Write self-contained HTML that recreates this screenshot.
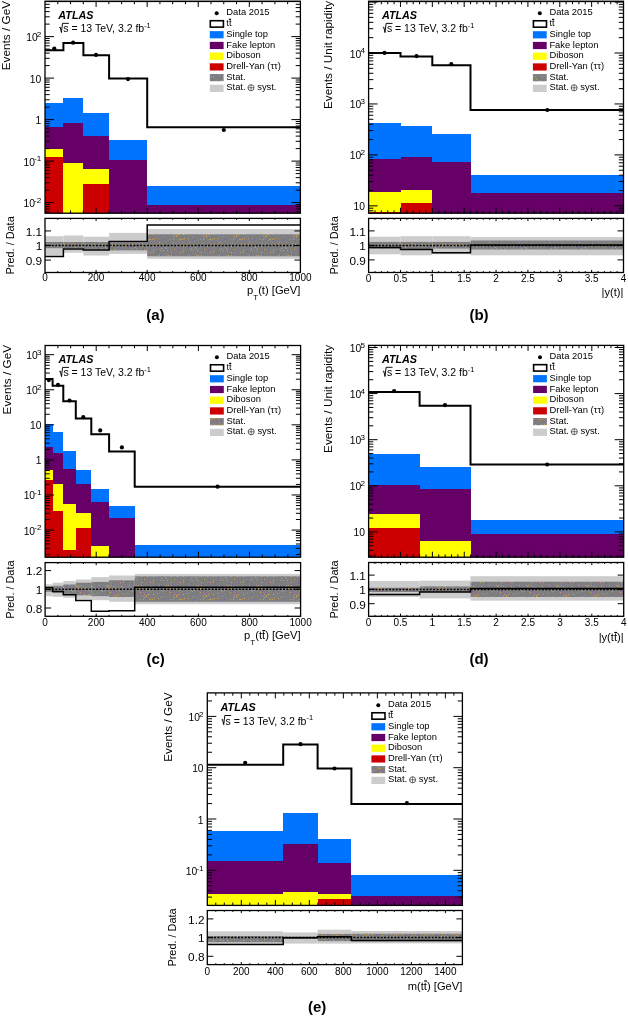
<!DOCTYPE html><html><head><meta charset="utf-8"><style>html,body{margin:0;padding:0;background:#fff;}svg{display:block;will-change:transform;filter:blur(0.35px);}text{font-family:"Liberation Sans",sans-serif;fill:#000;}</style></head><body>
<svg width="628" height="1016" viewBox="0 0 628 1016">
<defs>
<pattern id="statpat" patternUnits="userSpaceOnUse" width="30" height="30"><rect width="30" height="30" fill="#7f7f7f"/><rect x="3" y="0" width="1" height="1" fill="#9a55aa"/><rect x="8" y="7" width="1" height="1" fill="#6a68a8"/><rect x="1" y="25" width="1" height="1" fill="#9a55aa"/><rect x="7" y="11" width="1" height="1" fill="#6a68a8"/><rect x="9" y="2" width="1" height="1" fill="#9c9c9c"/><rect x="14" y="20" width="1" height="1" fill="#9c9c9c"/><rect x="9" y="15" width="1" height="1" fill="#cf9f4a"/><rect x="28" y="13" width="1" height="1" fill="#9a55aa"/><rect x="15" y="10" width="1" height="1" fill="#9a55aa"/><rect x="3" y="6" width="1" height="1" fill="#cf9f4a"/><rect x="14" y="18" width="1" height="1" fill="#9a55aa"/><rect x="15" y="22" width="1" height="1" fill="#9a55aa"/><rect x="3" y="24" width="1" height="1" fill="#cf9f4a"/><rect x="21" y="12" width="1" height="1" fill="#cf9f4a"/><rect x="21" y="6" width="1" height="1" fill="#cf9f4a"/><rect x="27" y="6" width="1" height="1" fill="#cf9f4a"/><rect x="3" y="26" width="1" height="1" fill="#9a55aa"/><rect x="12" y="0" width="1" height="1" fill="#6a68a8"/><rect x="12" y="4" width="1" height="1" fill="#cf9f4a"/><rect x="17" y="24" width="1" height="1" fill="#9a55aa"/><rect x="15" y="7" width="1" height="1" fill="#cf9f4a"/><rect x="11" y="20" width="1" height="1" fill="#cf9f4a"/><rect x="7" y="24" width="1" height="1" fill="#9a55aa"/><rect x="13" y="10" width="1" height="1" fill="#9c9c9c"/><rect x="28" y="24" width="1" height="1" fill="#cf9f4a"/><rect x="4" y="28" width="1" height="1" fill="#cf9f4a"/><rect x="12" y="26" width="1" height="1" fill="#9c9c9c"/><rect x="3" y="12" width="1" height="1" fill="#9c9c9c"/><rect x="12" y="25" width="1" height="1" fill="#6a68a8"/><rect x="25" y="17" width="1" height="1" fill="#9c9c9c"/><rect x="23" y="8" width="1" height="1" fill="#6a68a8"/><rect x="9" y="18" width="1" height="1" fill="#6a68a8"/><rect x="0" y="29" width="1" height="1" fill="#cf9f4a"/><rect x="4" y="4" width="1" height="1" fill="#cf9f4a"/><rect x="9" y="27" width="1" height="1" fill="#6a68a8"/><rect x="1" y="16" width="1" height="1" fill="#cf9f4a"/><rect x="5" y="13" width="1" height="1" fill="#6a68a8"/><rect x="7" y="23" width="1" height="1" fill="#9c9c9c"/><rect x="0" y="12" width="1" height="1" fill="#cf9f4a"/><rect x="22" y="21" width="1" height="1" fill="#9a55aa"/><rect x="7" y="12" width="1" height="1" fill="#9a55aa"/><rect x="23" y="29" width="1" height="1" fill="#cf9f4a"/><rect x="22" y="23" width="1" height="1" fill="#9a55aa"/><rect x="25" y="4" width="1" height="1" fill="#cf9f4a"/><rect x="22" y="14" width="1" height="1" fill="#6a68a8"/><rect x="8" y="4" width="1" height="1" fill="#9c9c9c"/><rect x="10" y="10" width="1" height="1" fill="#9c9c9c"/><rect x="17" y="16" width="1" height="1" fill="#cf9f4a"/><rect x="3" y="10" width="1" height="1" fill="#cf9f4a"/><rect x="22" y="5" width="1" height="1" fill="#cf9f4a"/><rect x="17" y="22" width="1" height="1" fill="#9a55aa"/><rect x="20" y="18" width="1" height="1" fill="#cf9f4a"/><rect x="2" y="29" width="1" height="1" fill="#cf9f4a"/><rect x="18" y="18" width="1" height="1" fill="#cf9f4a"/><rect x="18" y="15" width="1" height="1" fill="#cf9f4a"/><rect x="3" y="17" width="1" height="1" fill="#9c9c9c"/><rect x="29" y="29" width="1" height="1" fill="#9c9c9c"/><rect x="17" y="10" width="1" height="1" fill="#cf9f4a"/><rect x="24" y="27" width="1" height="1" fill="#9c9c9c"/><rect x="22" y="3" width="1" height="1" fill="#9c9c9c"/><rect x="8" y="28" width="1" height="1" fill="#cf9f4a"/><rect x="19" y="17" width="1" height="1" fill="#9c9c9c"/><rect x="6" y="5" width="1" height="1" fill="#cf9f4a"/><rect x="26" y="23" width="1" height="1" fill="#9a55aa"/><rect x="9" y="11" width="1" height="1" fill="#9a55aa"/><rect x="6" y="1" width="1" height="1" fill="#9a55aa"/><rect x="21" y="15" width="1" height="1" fill="#cf9f4a"/><rect x="16" y="8" width="1" height="1" fill="#9c9c9c"/><rect x="28" y="9" width="1" height="1" fill="#6a68a8"/><rect x="20" y="29" width="1" height="1" fill="#9c9c9c"/><rect x="16" y="15" width="1" height="1" fill="#9c9c9c"/><rect x="1" y="4" width="1" height="1" fill="#cf9f4a"/><rect x="12" y="21" width="1" height="1" fill="#9c9c9c"/><rect x="6" y="16" width="1" height="1" fill="#9a55aa"/><rect x="1" y="2" width="1" height="1" fill="#9a55aa"/><rect x="25" y="0" width="1" height="1" fill="#9a55aa"/><rect x="26" y="19" width="1" height="1" fill="#cf9f4a"/><rect x="26" y="25" width="1" height="1" fill="#cf9f4a"/><rect x="29" y="20" width="1" height="1" fill="#cf9f4a"/><rect x="20" y="22" width="1" height="1" fill="#cf9f4a"/><rect x="11" y="18" width="1" height="1" fill="#9a55aa"/><rect x="19" y="1" width="1" height="1" fill="#6a68a8"/><rect x="24" y="9" width="1" height="1" fill="#cf9f4a"/><rect x="11" y="13" width="1" height="1" fill="#6a68a8"/><rect x="24" y="24" width="1" height="1" fill="#9c9c9c"/><rect x="23" y="16" width="1" height="1" fill="#9c9c9c"/><rect x="14" y="29" width="1" height="1" fill="#6a68a8"/><rect x="11" y="8" width="1" height="1" fill="#cf9f4a"/><rect x="23" y="26" width="1" height="1" fill="#9c9c9c"/><rect x="29" y="19" width="1" height="1" fill="#6a68a8"/><rect x="11" y="24" width="1" height="1" fill="#9a55aa"/><rect x="16" y="5" width="1" height="1" fill="#6a68a8"/><rect x="10" y="15" width="1" height="1" fill="#6a68a8"/><rect x="26" y="26" width="1" height="1" fill="#cf9f4a"/><rect x="23" y="10" width="1" height="1" fill="#6a68a8"/></pattern>
</defs>
<rect width="628" height="1016" fill="#fff"/>
<rect x="44.5" y="0" width="256.5" height="0.9" fill="#a8a8a8"/><rect x="368" y="0" width="256" height="0.9" fill="#a8a8a8"/>
<clipPath id="cma"><rect x="45" y="1.45" width="255.4" height="211.75"/></clipPath>
<clipPath id="cra"><rect x="45" y="218.4" width="255.4" height="54.1"/></clipPath>
<g clip-path="url(#cma)" shape-rendering="crispEdges">
<rect x="45" y="102.7" width="18.4" height="112.5" fill="#0073ff"/>
<rect x="45" y="126.9" width="18.4" height="88.3" fill="#660066"/>
<rect x="45" y="148.9" width="18.4" height="66.3" fill="#ffff00"/>
<rect x="45" y="156.6" width="18.4" height="58.6" fill="#cc0000"/>
<rect x="63.4" y="97.5" width="20" height="117.7" fill="#0073ff"/>
<rect x="63.4" y="122.6" width="20" height="92.6" fill="#660066"/>
<rect x="63.4" y="162.5" width="20" height="52.7" fill="#ffff00"/>
<rect x="83.4" y="113.1" width="25.7" height="102.1" fill="#0073ff"/>
<rect x="83.4" y="135.7" width="25.7" height="79.5" fill="#660066"/>
<rect x="83.4" y="168.8" width="25.7" height="46.4" fill="#ffff00"/>
<rect x="83.4" y="184" width="25.7" height="31.2" fill="#cc0000"/>
<rect x="109.1" y="139.5" width="38.1" height="75.7" fill="#0073ff"/>
<rect x="109.1" y="159.7" width="38.1" height="55.5" fill="#660066"/>
<rect x="147.2" y="186" width="153.2" height="29.2" fill="#0073ff"/>
<rect x="147.2" y="205.4" width="153.2" height="9.8" fill="#660066"/>
</g>
<path d="M45,50.2 L63.4,50.2 L63.4,43 L83.4,43 L83.4,55.3 L109.1,55.3 L109.1,78.5 L147.2,78.5 L147.2,127.2 L300.4,127.2" fill="none" stroke="#000" stroke-width="2" clip-path="url(#cma)"/>
<circle cx="54.3" cy="48.6" r="2.1" fill="#000"/>
<circle cx="73.1" cy="42.7" r="2.1" fill="#000"/>
<circle cx="96" cy="54.9" r="2.1" fill="#000"/>
<circle cx="128" cy="79.1" r="2.1" fill="#000"/>
<circle cx="223.8" cy="130" r="2.1" fill="#000"/>
<path d="M45,211.81h4.7M300.4,211.81h-4.7M45,209.03h4.7M300.4,209.03h-4.7M45,206.62h4.7M300.4,206.62h-4.7M45,204.5h4.7M300.4,204.5h-4.7M45,202.6h9M300.4,202.6h-9M45,190.11h4.7M300.4,190.11h-4.7M45,182.8h4.7M300.4,182.8h-4.7M45,177.61h4.7M300.4,177.61h-4.7M45,173.59h4.7M300.4,173.59h-4.7M45,170.31h4.7M300.4,170.31h-4.7M45,167.53h4.7M300.4,167.53h-4.7M45,165.12h4.7M300.4,165.12h-4.7M45,163h4.7M300.4,163h-4.7M45,161.1h9M300.4,161.1h-9M45,148.61h4.7M300.4,148.61h-4.7M45,141.3h4.7M300.4,141.3h-4.7M45,136.11h4.7M300.4,136.11h-4.7M45,132.09h4.7M300.4,132.09h-4.7M45,128.81h4.7M300.4,128.81h-4.7M45,126.03h4.7M300.4,126.03h-4.7M45,123.62h4.7M300.4,123.62h-4.7M45,121.5h4.7M300.4,121.5h-4.7M45,119.6h9M300.4,119.6h-9M45,107.11h4.7M300.4,107.11h-4.7M45,99.8h4.7M300.4,99.8h-4.7M45,94.61h4.7M300.4,94.61h-4.7M45,90.59h4.7M300.4,90.59h-4.7M45,87.31h4.7M300.4,87.31h-4.7M45,84.53h4.7M300.4,84.53h-4.7M45,82.12h4.7M300.4,82.12h-4.7M45,80h4.7M300.4,80h-4.7M45,78.1h9M300.4,78.1h-9M45,65.61h4.7M300.4,65.61h-4.7M45,58.3h4.7M300.4,58.3h-4.7M45,53.11h4.7M300.4,53.11h-4.7M45,49.09h4.7M300.4,49.09h-4.7M45,45.81h4.7M300.4,45.81h-4.7M45,43.03h4.7M300.4,43.03h-4.7M45,40.62h4.7M300.4,40.62h-4.7M45,38.5h4.7M300.4,38.5h-4.7M45,36.6h9M300.4,36.6h-9M45,24.11h4.7M300.4,24.11h-4.7M45,16.8h4.7M300.4,16.8h-4.7M45,11.61h4.7M300.4,11.61h-4.7M45,7.59h4.7M300.4,7.59h-4.7M45,4.31h4.7M300.4,4.31h-4.7M57.77,213.2v-2.8M57.77,1.45v2.8M70.54,213.2v-2.8M70.54,1.45v2.8M83.31,213.2v-2.8M83.31,1.45v2.8M96.08,213.2v-5.5M96.08,1.45v5.5M108.85,213.2v-2.8M108.85,1.45v2.8M121.62,213.2v-2.8M121.62,1.45v2.8M134.39,213.2v-2.8M134.39,1.45v2.8M147.16,213.2v-5.5M147.16,1.45v5.5M159.93,213.2v-2.8M159.93,1.45v2.8M172.7,213.2v-2.8M172.7,1.45v2.8M185.47,213.2v-2.8M185.47,1.45v2.8M198.24,213.2v-5.5M198.24,1.45v5.5M211.01,213.2v-2.8M211.01,1.45v2.8M223.78,213.2v-2.8M223.78,1.45v2.8M236.55,213.2v-2.8M236.55,1.45v2.8M249.32,213.2v-5.5M249.32,1.45v5.5M262.09,213.2v-2.8M262.09,1.45v2.8M274.86,213.2v-2.8M274.86,1.45v2.8M287.63,213.2v-2.8M287.63,1.45v2.8" stroke="#000" stroke-width="1" fill="none"/>
<rect x="45" y="1.45" width="255.4" height="211.75" fill="none" stroke="#000" stroke-width="1.3"/>
<g clip-path="url(#cra)">
<rect x="45" y="236.2" width="18.4" height="19.3" fill="#cccccc"/>
<rect x="63.4" y="235.5" width="20" height="17.2" fill="#cccccc"/>
<rect x="83.4" y="236.7" width="25.7" height="18.8" fill="#cccccc"/>
<rect x="109.1" y="232.9" width="38.1" height="21" fill="#cccccc"/>
<rect x="147.2" y="229" width="153.2" height="29.8" fill="#cccccc"/>
<rect x="45" y="242" width="18.4" height="6.2" fill="url(#statpat)"/>
<rect x="63.4" y="242" width="20" height="6.1" fill="url(#statpat)"/>
<rect x="83.4" y="242" width="25.7" height="7.5" fill="url(#statpat)"/>
<rect x="109.1" y="242.5" width="38.1" height="7.9" fill="url(#statpat)"/>
<rect x="147.2" y="234.3" width="153.2" height="22" fill="url(#statpat)"/>
<line x1="45" y1="245.5" x2="300.4" y2="245.5" stroke="#000" stroke-width="1.5" stroke-dasharray="1.9,1.5"/>
<path d="M45,256.4 L63.4,256.4 L63.4,249 L83.4,249 L83.4,250 L109.1,250 L109.1,241.5 L147.2,241.5 L147.2,225 L300.4,225" fill="none" stroke="#000" stroke-width="1.5"/>
</g>
<path d="M45,230.95h6M300.4,230.95h-6M45,245.5h6M300.4,245.5h-6M45,260.05h6M300.4,260.05h-6M57.77,272.5v-1.4M57.77,218.4v1.4M70.54,272.5v-1.4M70.54,218.4v1.4M83.31,272.5v-1.4M83.31,218.4v1.4M96.08,272.5v-2.6M96.08,218.4v2.6M108.85,272.5v-1.4M108.85,218.4v1.4M121.62,272.5v-1.4M121.62,218.4v1.4M134.39,272.5v-1.4M134.39,218.4v1.4M147.16,272.5v-2.6M147.16,218.4v2.6M159.93,272.5v-1.4M159.93,218.4v1.4M172.7,272.5v-1.4M172.7,218.4v1.4M185.47,272.5v-1.4M185.47,218.4v1.4M198.24,272.5v-2.6M198.24,218.4v2.6M211.01,272.5v-1.4M211.01,218.4v1.4M223.78,272.5v-1.4M223.78,218.4v1.4M236.55,272.5v-1.4M236.55,218.4v1.4M249.32,272.5v-2.6M249.32,218.4v2.6M262.09,272.5v-1.4M262.09,218.4v1.4M274.86,272.5v-1.4M274.86,218.4v1.4M287.63,272.5v-1.4M287.63,218.4v1.4" stroke="#000" stroke-width="1" fill="none"/>
<rect x="45" y="218.4" width="255.4" height="54.1" fill="none" stroke="#000" stroke-width="1.3"/>
<text x="41.3" y="41.1" text-anchor="end" font-size="10.3">10<tspan font-size="8.1" dx="-0.9" dy="-4.3">2</tspan></text>
<text x="41.3" y="82.6" text-anchor="end" font-size="10.3">10</text>
<text x="41.3" y="124.1" text-anchor="end" font-size="10.3">1</text>
<text x="41.3" y="165.6" text-anchor="end" font-size="10.3">10<tspan font-size="8.1" dx="-0.9" dy="-4.3">-1</tspan></text>
<text x="41.3" y="207.1" text-anchor="end" font-size="10.3">10<tspan font-size="8.1" dx="-0.9" dy="-4.3">-2</tspan></text>
<text x="42.2" y="235.75" text-anchor="end" font-size="11.8">1.1</text>
<text x="42.2" y="250.3" text-anchor="end" font-size="11.8">1</text>
<text x="42.2" y="264.85" text-anchor="end" font-size="11.8">0.9</text>
<text x="45" y="281.4" text-anchor="middle" font-size="10">0</text>
<text x="96.08" y="281.4" text-anchor="middle" font-size="10">200</text>
<text x="147.16" y="281.4" text-anchor="middle" font-size="10">400</text>
<text x="198.24" y="281.4" text-anchor="middle" font-size="10">600</text>
<text x="249.32" y="281.4" text-anchor="middle" font-size="10">800</text>
<text x="300.4" y="281.4" text-anchor="middle" font-size="10">1000</text>
<text transform="translate(10.1,0.85) rotate(-90)" text-anchor="end" font-size="11.8">Events / GeV</text>
<text transform="translate(14,216.3) rotate(-90)" text-anchor="end" font-size="10.9">Pred. / Data</text>
<text x="247.02" y="293.8" font-size="11.2">p</text>
<text x="253.24" y="299.8" font-size="8">T</text>
<text x="258.13" y="293.8" font-size="11.2">(t) [GeV]</text>
<text x="146.2" y="319.8" font-size="15" font-weight="bold">(a)</text>
<text x="58.3" y="18.55" font-size="10.8" font-weight="bold" font-style="italic">ATLAS</text>
<path d="M59.2,27.75l1,-0.6l1.2,5.4l1.1,-9.2h6.4" fill="none" stroke="#000" stroke-width="0.95"/>
<text x="63.3" y="32.35" font-size="10.5">s = 13 TeV, 3.2 fb<tspan font-size="7.4" dy="-4.3">-1</tspan></text>
<circle cx="216.7" cy="13.3" r="2.0" fill="#000"/>
<text x="226.3" y="15.4" font-size="9.4">Data 2015</text>
<rect x="210.3" y="20.72" width="13.1" height="6.4" fill="#fff" stroke="#000" stroke-width="1.6"/>
<text x="226.3" y="26.12" font-size="9.4">tt</text>
<path d="M228.8,19.32h2.3" stroke="#000" stroke-width="1.2"/>
<rect x="209.8" y="31.14" width="13.8" height="7.2" fill="#0073ff"/>
<text x="226.3" y="36.84" font-size="9.4">Single top</text>
<rect x="209.8" y="41.86" width="13.8" height="7.2" fill="#660066"/>
<text x="226.3" y="47.56" font-size="9.4">Fake lepton</text>
<rect x="209.8" y="52.58" width="13.8" height="7.2" fill="#ffff00"/>
<text x="226.3" y="58.28" font-size="9.4">Diboson</text>
<rect x="209.8" y="63.3" width="13.8" height="7.2" fill="#cc0000"/>
<text x="226.3" y="69" font-size="9.4">Drell-Yan (ττ)</text>
<rect x="209.8" y="74.02" width="13.8" height="7.2" fill="url(#statpat)"/>
<text x="226.3" y="79.72" font-size="9.4">Stat.</text>
<rect x="209.8" y="84.74" width="13.8" height="7.2" fill="#cccccc"/>
<text x="226.3" y="90.44" font-size="9.4">Stat.</text>
<circle cx="251" cy="87.74" r="3.05" fill="none" stroke="#000" stroke-width="0.6"/><path d="M247.95,87.74h6.1M251,84.69v6.1" stroke="#000" stroke-width="0.5"/>
<text x="257.2" y="90.44" font-size="9.4">syst.</text>
<clipPath id="cmb"><rect x="368.6" y="1.5" width="254.9" height="211.7"/></clipPath>
<clipPath id="crb"><rect x="368.6" y="218.4" width="254.9" height="54.1"/></clipPath>
<g clip-path="url(#cmb)" shape-rendering="crispEdges">
<rect x="368.6" y="123.4" width="31.9" height="91.8" fill="#0073ff"/>
<rect x="368.6" y="159.1" width="31.9" height="56.1" fill="#660066"/>
<rect x="368.6" y="192" width="31.9" height="23.2" fill="#ffff00"/>
<rect x="368.6" y="211.5" width="31.9" height="3.7" fill="#cc0000"/>
<rect x="400.5" y="125.6" width="31.8" height="89.6" fill="#0073ff"/>
<rect x="400.5" y="156.8" width="31.8" height="58.4" fill="#660066"/>
<rect x="400.5" y="189.8" width="31.8" height="25.4" fill="#ffff00"/>
<rect x="400.5" y="203.2" width="31.8" height="12" fill="#cc0000"/>
<rect x="432.3" y="133.9" width="38.2" height="81.3" fill="#0073ff"/>
<rect x="432.3" y="161.7" width="38.2" height="53.5" fill="#660066"/>
<rect x="470.5" y="175.2" width="153" height="40" fill="#0073ff"/>
<rect x="470.5" y="192.8" width="153" height="22.4" fill="#660066"/>
</g>
<path d="M368.6,53 L400.5,53 L400.5,56.5 L432.3,56.5 L432.3,65.3 L470.5,65.3 L470.5,110 L623.5,110" fill="none" stroke="#000" stroke-width="2" clip-path="url(#cmb)"/>
<circle cx="384.5" cy="52.9" r="2.1" fill="#000"/>
<circle cx="416.5" cy="56.1" r="2.1" fill="#000"/>
<circle cx="451.3" cy="64.2" r="2.1" fill="#000"/>
<circle cx="547.3" cy="110" r="2.1" fill="#000"/>
<path d="M368.6,210.79h4.7M623.5,210.79h-4.7M368.6,208.18h4.7M623.5,208.18h-4.7M368.6,205.85h9M623.5,205.85h-9M368.6,190.51h4.7M623.5,190.51h-4.7M368.6,181.54h4.7M623.5,181.54h-4.7M368.6,175.18h4.7M623.5,175.18h-4.7M368.6,170.24h4.7M623.5,170.24h-4.7M368.6,166.2h4.7M623.5,166.2h-4.7M368.6,162.79h4.7M623.5,162.79h-4.7M368.6,159.84h4.7M623.5,159.84h-4.7M368.6,157.23h4.7M623.5,157.23h-4.7M368.6,154.9h9M623.5,154.9h-9M368.6,139.56h4.7M623.5,139.56h-4.7M368.6,130.59h4.7M623.5,130.59h-4.7M368.6,124.23h4.7M623.5,124.23h-4.7M368.6,119.29h4.7M623.5,119.29h-4.7M368.6,115.25h4.7M623.5,115.25h-4.7M368.6,111.84h4.7M623.5,111.84h-4.7M368.6,108.89h4.7M623.5,108.89h-4.7M368.6,106.28h4.7M623.5,106.28h-4.7M368.6,103.95h9M623.5,103.95h-9M368.6,88.61h4.7M623.5,88.61h-4.7M368.6,79.64h4.7M623.5,79.64h-4.7M368.6,73.28h4.7M623.5,73.28h-4.7M368.6,68.34h4.7M623.5,68.34h-4.7M368.6,64.3h4.7M623.5,64.3h-4.7M368.6,60.89h4.7M623.5,60.89h-4.7M368.6,57.94h4.7M623.5,57.94h-4.7M368.6,55.33h4.7M623.5,55.33h-4.7M368.6,53h9M623.5,53h-9M368.6,37.66h4.7M623.5,37.66h-4.7M368.6,28.69h4.7M623.5,28.69h-4.7M368.6,22.33h4.7M623.5,22.33h-4.7M368.6,17.39h4.7M623.5,17.39h-4.7M368.6,13.35h4.7M623.5,13.35h-4.7M368.6,9.94h4.7M623.5,9.94h-4.7M368.6,6.99h4.7M623.5,6.99h-4.7M368.6,4.38h4.7M623.5,4.38h-4.7M368.6,2.05h9M623.5,2.05h-9M374.97,213.2v-2.8M374.97,1.5v2.8M381.35,213.2v-2.8M381.35,1.5v2.8M387.72,213.2v-2.8M387.72,1.5v2.8M394.09,213.2v-2.8M394.09,1.5v2.8M400.46,213.2v-5.5M400.46,1.5v5.5M406.84,213.2v-2.8M406.84,1.5v2.8M413.21,213.2v-2.8M413.21,1.5v2.8M419.58,213.2v-2.8M419.58,1.5v2.8M425.95,213.2v-2.8M425.95,1.5v2.8M432.33,213.2v-5.5M432.33,1.5v5.5M438.7,213.2v-2.8M438.7,1.5v2.8M445.07,213.2v-2.8M445.07,1.5v2.8M451.44,213.2v-2.8M451.44,1.5v2.8M457.81,213.2v-2.8M457.81,1.5v2.8M464.19,213.2v-5.5M464.19,1.5v5.5M470.56,213.2v-2.8M470.56,1.5v2.8M476.93,213.2v-2.8M476.93,1.5v2.8M483.31,213.2v-2.8M483.31,1.5v2.8M489.68,213.2v-2.8M489.68,1.5v2.8M496.05,213.2v-5.5M496.05,1.5v5.5M502.42,213.2v-2.8M502.42,1.5v2.8M508.8,213.2v-2.8M508.8,1.5v2.8M515.17,213.2v-2.8M515.17,1.5v2.8M521.54,213.2v-2.8M521.54,1.5v2.8M527.91,213.2v-5.5M527.91,1.5v5.5M534.29,213.2v-2.8M534.29,1.5v2.8M540.66,213.2v-2.8M540.66,1.5v2.8M547.03,213.2v-2.8M547.03,1.5v2.8M553.4,213.2v-2.8M553.4,1.5v2.8M559.77,213.2v-5.5M559.77,1.5v5.5M566.15,213.2v-2.8M566.15,1.5v2.8M572.52,213.2v-2.8M572.52,1.5v2.8M578.89,213.2v-2.8M578.89,1.5v2.8M585.26,213.2v-2.8M585.26,1.5v2.8M591.64,213.2v-5.5M591.64,1.5v5.5M598.01,213.2v-2.8M598.01,1.5v2.8M604.38,213.2v-2.8M604.38,1.5v2.8M610.75,213.2v-2.8M610.75,1.5v2.8M617.13,213.2v-2.8M617.13,1.5v2.8" stroke="#000" stroke-width="1" fill="none"/>
<rect x="368.6" y="1.5" width="254.9" height="211.7" fill="none" stroke="#000" stroke-width="1.3"/>
<g clip-path="url(#crb)">
<rect x="368.6" y="236.7" width="31.9" height="17.6" fill="#cccccc"/>
<rect x="400.5" y="236.2" width="31.8" height="19.1" fill="#cccccc"/>
<rect x="432.3" y="236.2" width="38.2" height="18.1" fill="#cccccc"/>
<rect x="470.5" y="237.1" width="153" height="18.2" fill="#cccccc"/>
<rect x="368.6" y="241.9" width="31.9" height="6.7" fill="url(#statpat)"/>
<rect x="400.5" y="241.9" width="31.8" height="7.6" fill="url(#statpat)"/>
<rect x="432.3" y="241.9" width="38.2" height="6.7" fill="url(#statpat)"/>
<rect x="470.5" y="240.5" width="153" height="9" fill="url(#statpat)"/>
<line x1="368.6" y1="245.4" x2="623.5" y2="245.4" stroke="#000" stroke-width="1.5" stroke-dasharray="1.9,1.5"/>
<path d="M368.6,247.4 L400.5,247.4 L400.5,249.4 L432.3,249.4 L432.3,252.8 L470.5,252.8 L470.5,245 L623.5,245" fill="none" stroke="#000" stroke-width="1.5"/>
</g>
<path d="M368.6,230.9h6M623.5,230.9h-6M368.6,245.4h6M623.5,245.4h-6M368.6,259.9h6M623.5,259.9h-6M374.97,272.5v-1.4M374.97,218.4v1.4M381.35,272.5v-1.4M381.35,218.4v1.4M387.72,272.5v-1.4M387.72,218.4v1.4M394.09,272.5v-1.4M394.09,218.4v1.4M400.46,272.5v-2.6M400.46,218.4v2.6M406.84,272.5v-1.4M406.84,218.4v1.4M413.21,272.5v-1.4M413.21,218.4v1.4M419.58,272.5v-1.4M419.58,218.4v1.4M425.95,272.5v-1.4M425.95,218.4v1.4M432.33,272.5v-2.6M432.33,218.4v2.6M438.7,272.5v-1.4M438.7,218.4v1.4M445.07,272.5v-1.4M445.07,218.4v1.4M451.44,272.5v-1.4M451.44,218.4v1.4M457.81,272.5v-1.4M457.81,218.4v1.4M464.19,272.5v-2.6M464.19,218.4v2.6M470.56,272.5v-1.4M470.56,218.4v1.4M476.93,272.5v-1.4M476.93,218.4v1.4M483.31,272.5v-1.4M483.31,218.4v1.4M489.68,272.5v-1.4M489.68,218.4v1.4M496.05,272.5v-2.6M496.05,218.4v2.6M502.42,272.5v-1.4M502.42,218.4v1.4M508.8,272.5v-1.4M508.8,218.4v1.4M515.17,272.5v-1.4M515.17,218.4v1.4M521.54,272.5v-1.4M521.54,218.4v1.4M527.91,272.5v-2.6M527.91,218.4v2.6M534.29,272.5v-1.4M534.29,218.4v1.4M540.66,272.5v-1.4M540.66,218.4v1.4M547.03,272.5v-1.4M547.03,218.4v1.4M553.4,272.5v-1.4M553.4,218.4v1.4M559.77,272.5v-2.6M559.77,218.4v2.6M566.15,272.5v-1.4M566.15,218.4v1.4M572.52,272.5v-1.4M572.52,218.4v1.4M578.89,272.5v-1.4M578.89,218.4v1.4M585.26,272.5v-1.4M585.26,218.4v1.4M591.64,272.5v-2.6M591.64,218.4v2.6M598.01,272.5v-1.4M598.01,218.4v1.4M604.38,272.5v-1.4M604.38,218.4v1.4M610.75,272.5v-1.4M610.75,218.4v1.4M617.13,272.5v-1.4M617.13,218.4v1.4" stroke="#000" stroke-width="1" fill="none"/>
<rect x="368.6" y="218.4" width="254.9" height="54.1" fill="none" stroke="#000" stroke-width="1.3"/>
<text x="364.9" y="57.5" text-anchor="end" font-size="10.3">10<tspan font-size="8.1" dx="-0.9" dy="-4.3">4</tspan></text>
<text x="364.9" y="108.45" text-anchor="end" font-size="10.3">10<tspan font-size="8.1" dx="-0.9" dy="-4.3">3</tspan></text>
<text x="364.9" y="159.4" text-anchor="end" font-size="10.3">10<tspan font-size="8.1" dx="-0.9" dy="-4.3">2</tspan></text>
<text x="364.9" y="210.35" text-anchor="end" font-size="10.3">10</text>
<text x="365.8" y="235.7" text-anchor="end" font-size="11.8">1.1</text>
<text x="365.8" y="250.2" text-anchor="end" font-size="11.8">1</text>
<text x="365.8" y="264.7" text-anchor="end" font-size="11.8">0.9</text>
<text x="368.6" y="281.6" text-anchor="middle" font-size="10">0</text>
<text x="400.46" y="281.6" text-anchor="middle" font-size="10">0.5</text>
<text x="432.33" y="281.6" text-anchor="middle" font-size="10">1</text>
<text x="464.19" y="281.6" text-anchor="middle" font-size="10">1.5</text>
<text x="496.05" y="281.6" text-anchor="middle" font-size="10">2</text>
<text x="527.91" y="281.6" text-anchor="middle" font-size="10">2.5</text>
<text x="559.77" y="281.6" text-anchor="middle" font-size="10">3</text>
<text x="591.64" y="281.6" text-anchor="middle" font-size="10">3.5</text>
<text x="623.5" y="281.6" text-anchor="middle" font-size="10">4</text>
<text transform="translate(332.3,0.9) rotate(-90)" text-anchor="end" font-size="11.8">Events / Unit rapidity</text>
<text transform="translate(337.6,216.3) rotate(-90)" text-anchor="end" font-size="10.9">Pred. / Data</text>
<text x="601.53" y="295.7" font-size="11.2">|y(t)|</text>
<text x="469.4" y="320" font-size="15" font-weight="bold">(b)</text>
<text x="381.9" y="18.6" font-size="10.8" font-weight="bold" font-style="italic">ATLAS</text>
<path d="M382.8,27.8l1,-0.6l1.2,5.4l1.1,-9.2h6.4" fill="none" stroke="#000" stroke-width="0.95"/>
<text x="386.9" y="32.4" font-size="10.5">s = 13 TeV, 3.2 fb<tspan font-size="7.4" dy="-4.3">-1</tspan></text>
<circle cx="539.8" cy="13.35" r="2.0" fill="#000"/>
<text x="549.4" y="15.45" font-size="9.4">Data 2015</text>
<rect x="533.4" y="20.77" width="13.1" height="6.4" fill="#fff" stroke="#000" stroke-width="1.6"/>
<text x="549.4" y="26.17" font-size="9.4">tt</text>
<path d="M551.9,19.37h2.3" stroke="#000" stroke-width="1.2"/>
<rect x="532.9" y="31.19" width="13.8" height="7.2" fill="#0073ff"/>
<text x="549.4" y="36.89" font-size="9.4">Single top</text>
<rect x="532.9" y="41.91" width="13.8" height="7.2" fill="#660066"/>
<text x="549.4" y="47.61" font-size="9.4">Fake lepton</text>
<rect x="532.9" y="52.63" width="13.8" height="7.2" fill="#ffff00"/>
<text x="549.4" y="58.33" font-size="9.4">Diboson</text>
<rect x="532.9" y="63.35" width="13.8" height="7.2" fill="#cc0000"/>
<text x="549.4" y="69.05" font-size="9.4">Drell-Yan (ττ)</text>
<rect x="532.9" y="74.07" width="13.8" height="7.2" fill="url(#statpat)"/>
<text x="549.4" y="79.77" font-size="9.4">Stat.</text>
<rect x="532.9" y="84.79" width="13.8" height="7.2" fill="#cccccc"/>
<text x="549.4" y="90.49" font-size="9.4">Stat.</text>
<circle cx="574.1" cy="87.79" r="3.05" fill="none" stroke="#000" stroke-width="0.6"/><path d="M571.05,87.79h6.1M574.1,84.74v6.1" stroke="#000" stroke-width="0.5"/>
<text x="580.3" y="90.49" font-size="9.4">syst.</text>
<clipPath id="cmc"><rect x="45.1" y="345.5" width="255.5" height="211.7"/></clipPath>
<clipPath id="crc"><rect x="45.1" y="562.6" width="255.5" height="53.7"/></clipPath>
<g clip-path="url(#cmc)" shape-rendering="crispEdges">
<rect x="45.1" y="424.2" width="7.5" height="135" fill="#0073ff"/>
<rect x="45.1" y="447" width="7.5" height="112.2" fill="#660066"/>
<rect x="45.1" y="469.8" width="7.5" height="89.4" fill="#ffff00"/>
<rect x="45.1" y="479.7" width="7.5" height="79.5" fill="#cc0000"/>
<rect x="52.6" y="432.2" width="10.7" height="127" fill="#0073ff"/>
<rect x="52.6" y="452.6" width="10.7" height="106.6" fill="#660066"/>
<rect x="52.6" y="484" width="10.7" height="75.2" fill="#ffff00"/>
<rect x="52.6" y="511" width="10.7" height="48.2" fill="#cc0000"/>
<rect x="63.3" y="451.4" width="12.5" height="107.8" fill="#0073ff"/>
<rect x="63.3" y="468.6" width="12.5" height="90.6" fill="#660066"/>
<rect x="63.3" y="503.9" width="12.5" height="55.3" fill="#ffff00"/>
<rect x="63.3" y="549.6" width="12.5" height="9.6" fill="#cc0000"/>
<rect x="75.8" y="470.2" width="15.5" height="89" fill="#0073ff"/>
<rect x="75.8" y="484" width="15.5" height="75.2" fill="#660066"/>
<rect x="75.8" y="512.6" width="15.5" height="46.6" fill="#ffff00"/>
<rect x="75.8" y="527.8" width="15.5" height="31.4" fill="#cc0000"/>
<rect x="91.3" y="488.8" width="17.8" height="70.4" fill="#0073ff"/>
<rect x="91.3" y="501.5" width="17.8" height="57.7" fill="#660066"/>
<rect x="91.3" y="546" width="17.8" height="13.2" fill="#ffff00"/>
<rect x="109.1" y="506" width="25.6" height="53.2" fill="#0073ff"/>
<rect x="109.1" y="517.5" width="25.6" height="41.7" fill="#660066"/>
<rect x="134.7" y="545.2" width="165.9" height="14" fill="#0073ff"/>
</g>
<path d="M45.1,379 L52.6,379 L52.6,385.7 L63.3,385.7 L63.3,401.3 L75.8,401.3 L75.8,418.6 L91.3,418.6 L91.3,434.3 L109.1,434.3 L109.1,451.4 L134.7,451.4 L134.7,486.8 L300.6,486.8" fill="none" stroke="#000" stroke-width="2" clip-path="url(#cmc)"/>
<circle cx="48.8" cy="380.1" r="2.1" fill="#000"/>
<circle cx="58" cy="384.9" r="2.1" fill="#000"/>
<circle cx="69.5" cy="400.5" r="2.1" fill="#000"/>
<circle cx="83.3" cy="417.2" r="2.1" fill="#000"/>
<circle cx="100.2" cy="430.4" r="2.1" fill="#000"/>
<circle cx="121.9" cy="447.4" r="2.1" fill="#000"/>
<circle cx="217.6" cy="486.7" r="2.1" fill="#000"/>
<path d="M45.1,554.56h4.7M300.6,554.56h-4.7M45.1,548.39h4.7M300.6,548.39h-4.7M45.1,544.01h4.7M300.6,544.01h-4.7M45.1,540.61h4.7M300.6,540.61h-4.7M45.1,537.83h4.7M300.6,537.83h-4.7M45.1,535.48h4.7M300.6,535.48h-4.7M45.1,533.45h4.7M300.6,533.45h-4.7M45.1,531.65h4.7M300.6,531.65h-4.7M45.1,530.05h9M300.6,530.05h-9M45.1,519.49h4.7M300.6,519.49h-4.7M45.1,513.32h4.7M300.6,513.32h-4.7M45.1,508.94h4.7M300.6,508.94h-4.7M45.1,505.54h4.7M300.6,505.54h-4.7M45.1,502.76h4.7M300.6,502.76h-4.7M45.1,500.41h4.7M300.6,500.41h-4.7M45.1,498.38h4.7M300.6,498.38h-4.7M45.1,496.58h4.7M300.6,496.58h-4.7M45.1,494.98h9M300.6,494.98h-9M45.1,484.42h4.7M300.6,484.42h-4.7M45.1,478.25h4.7M300.6,478.25h-4.7M45.1,473.87h4.7M300.6,473.87h-4.7M45.1,470.47h4.7M300.6,470.47h-4.7M45.1,467.69h4.7M300.6,467.69h-4.7M45.1,465.34h4.7M300.6,465.34h-4.7M45.1,463.31h4.7M300.6,463.31h-4.7M45.1,461.51h4.7M300.6,461.51h-4.7M45.1,459.91h9M300.6,459.91h-9M45.1,449.35h4.7M300.6,449.35h-4.7M45.1,443.18h4.7M300.6,443.18h-4.7M45.1,438.8h4.7M300.6,438.8h-4.7M45.1,435.4h4.7M300.6,435.4h-4.7M45.1,432.62h4.7M300.6,432.62h-4.7M45.1,430.27h4.7M300.6,430.27h-4.7M45.1,428.24h4.7M300.6,428.24h-4.7M45.1,426.44h4.7M300.6,426.44h-4.7M45.1,424.84h9M300.6,424.84h-9M45.1,414.28h4.7M300.6,414.28h-4.7M45.1,408.11h4.7M300.6,408.11h-4.7M45.1,403.73h4.7M300.6,403.73h-4.7M45.1,400.33h4.7M300.6,400.33h-4.7M45.1,397.55h4.7M300.6,397.55h-4.7M45.1,395.2h4.7M300.6,395.2h-4.7M45.1,393.17h4.7M300.6,393.17h-4.7M45.1,391.37h4.7M300.6,391.37h-4.7M45.1,389.77h9M300.6,389.77h-9M45.1,379.21h4.7M300.6,379.21h-4.7M45.1,373.04h4.7M300.6,373.04h-4.7M45.1,368.66h4.7M300.6,368.66h-4.7M45.1,365.26h4.7M300.6,365.26h-4.7M45.1,362.48h4.7M300.6,362.48h-4.7M45.1,360.13h4.7M300.6,360.13h-4.7M45.1,358.1h4.7M300.6,358.1h-4.7M45.1,356.3h4.7M300.6,356.3h-4.7M45.1,354.7h9M300.6,354.7h-9M57.88,557.2v-2.8M57.88,345.5v2.8M70.65,557.2v-2.8M70.65,345.5v2.8M83.43,557.2v-2.8M83.43,345.5v2.8M96.2,557.2v-5.5M96.2,345.5v5.5M108.98,557.2v-2.8M108.98,345.5v2.8M121.75,557.2v-2.8M121.75,345.5v2.8M134.53,557.2v-2.8M134.53,345.5v2.8M147.3,557.2v-5.5M147.3,345.5v5.5M160.08,557.2v-2.8M160.08,345.5v2.8M172.85,557.2v-2.8M172.85,345.5v2.8M185.63,557.2v-2.8M185.63,345.5v2.8M198.4,557.2v-5.5M198.4,345.5v5.5M211.18,557.2v-2.8M211.18,345.5v2.8M223.95,557.2v-2.8M223.95,345.5v2.8M236.73,557.2v-2.8M236.73,345.5v2.8M249.5,557.2v-5.5M249.5,345.5v5.5M262.28,557.2v-2.8M262.28,345.5v2.8M275.05,557.2v-2.8M275.05,345.5v2.8M287.83,557.2v-2.8M287.83,345.5v2.8" stroke="#000" stroke-width="1" fill="none"/>
<rect x="45.1" y="345.5" width="255.5" height="211.7" fill="none" stroke="#000" stroke-width="1.3"/>
<g clip-path="url(#crc)">
<rect x="45.1" y="584.3" width="7.5" height="11.9" fill="#cccccc"/>
<rect x="52.6" y="582.7" width="10.7" height="14.1" fill="#cccccc"/>
<rect x="63.3" y="581.1" width="12.5" height="16.7" fill="#cccccc"/>
<rect x="75.8" y="579.5" width="15.5" height="19.9" fill="#cccccc"/>
<rect x="91.3" y="577.1" width="17.8" height="23.1" fill="#cccccc"/>
<rect x="109.1" y="575.5" width="25.6" height="26.3" fill="#cccccc"/>
<rect x="134.7" y="573.9" width="165.9" height="30.3" fill="#cccccc"/>
<rect x="45.1" y="586.8" width="7.5" height="5" fill="url(#statpat)"/>
<rect x="52.6" y="585.8" width="10.7" height="7" fill="url(#statpat)"/>
<rect x="63.3" y="584.5" width="12.5" height="9.7" fill="url(#statpat)"/>
<rect x="75.8" y="582.7" width="15.5" height="12.7" fill="url(#statpat)"/>
<rect x="91.3" y="581.9" width="17.8" height="14.3" fill="url(#statpat)"/>
<rect x="109.1" y="580.3" width="25.6" height="16.7" fill="url(#statpat)"/>
<rect x="134.7" y="576.3" width="165.9" height="25.5" fill="url(#statpat)"/>
<line x1="45.1" y1="589.3" x2="300.6" y2="589.3" stroke="#000" stroke-width="1.5" stroke-dasharray="1.9,1.5"/>
<path d="M45.1,587.6 L52.6,587.6 L52.6,591.5 L63.3,591.5 L63.3,594.8 L75.8,594.8 L75.8,600.4 L91.3,600.4 L91.3,611.2 L109.1,611.2 L109.1,610.8 L134.7,610.8 L134.7,587.3 L300.6,587.3" fill="none" stroke="#000" stroke-width="1.5"/>
</g>
<path d="M45.1,570.6h6M300.6,570.6h-6M45.1,589.3h6M300.6,589.3h-6M45.1,608h6M300.6,608h-6M57.88,616.3v-1.4M57.88,562.6v1.4M70.65,616.3v-1.4M70.65,562.6v1.4M83.43,616.3v-1.4M83.43,562.6v1.4M96.2,616.3v-2.6M96.2,562.6v2.6M108.98,616.3v-1.4M108.98,562.6v1.4M121.75,616.3v-1.4M121.75,562.6v1.4M134.53,616.3v-1.4M134.53,562.6v1.4M147.3,616.3v-2.6M147.3,562.6v2.6M160.08,616.3v-1.4M160.08,562.6v1.4M172.85,616.3v-1.4M172.85,562.6v1.4M185.63,616.3v-1.4M185.63,562.6v1.4M198.4,616.3v-2.6M198.4,562.6v2.6M211.18,616.3v-1.4M211.18,562.6v1.4M223.95,616.3v-1.4M223.95,562.6v1.4M236.73,616.3v-1.4M236.73,562.6v1.4M249.5,616.3v-2.6M249.5,562.6v2.6M262.28,616.3v-1.4M262.28,562.6v1.4M275.05,616.3v-1.4M275.05,562.6v1.4M287.83,616.3v-1.4M287.83,562.6v1.4" stroke="#000" stroke-width="1" fill="none"/>
<rect x="45.1" y="562.6" width="255.5" height="53.7" fill="none" stroke="#000" stroke-width="1.3"/>
<text x="41.4" y="359.2" text-anchor="end" font-size="10.3">10<tspan font-size="8.1" dx="-0.9" dy="-4.3">3</tspan></text>
<text x="41.4" y="394.27" text-anchor="end" font-size="10.3">10<tspan font-size="8.1" dx="-0.9" dy="-4.3">2</tspan></text>
<text x="41.4" y="429.34" text-anchor="end" font-size="10.3">10</text>
<text x="41.4" y="464.41" text-anchor="end" font-size="10.3">1</text>
<text x="41.4" y="499.48" text-anchor="end" font-size="10.3">10<tspan font-size="8.1" dx="-0.9" dy="-4.3">-1</tspan></text>
<text x="41.4" y="534.55" text-anchor="end" font-size="10.3">10<tspan font-size="8.1" dx="-0.9" dy="-4.3">-2</tspan></text>
<text x="42.3" y="575.4" text-anchor="end" font-size="11.8">1.2</text>
<text x="42.3" y="594.1" text-anchor="end" font-size="11.8">1</text>
<text x="42.3" y="612.8" text-anchor="end" font-size="11.8">0.8</text>
<text x="45.1" y="626.4" text-anchor="middle" font-size="10">0</text>
<text x="96.2" y="626.4" text-anchor="middle" font-size="10">200</text>
<text x="147.3" y="626.4" text-anchor="middle" font-size="10">400</text>
<text x="198.4" y="626.4" text-anchor="middle" font-size="10">600</text>
<text x="249.5" y="626.4" text-anchor="middle" font-size="10">800</text>
<text x="300.6" y="626.4" text-anchor="middle" font-size="10">1000</text>
<text transform="translate(11.1,344.9) rotate(-90)" text-anchor="end" font-size="11.8">Events / GeV</text>
<text transform="translate(14.1,560.5) rotate(-90)" text-anchor="end" font-size="10.9">Pred. / Data</text>
<text x="244.11" y="639.1" font-size="11.2">p</text>
<text x="250.34" y="645.1" font-size="8">T</text>
<text x="255.22" y="639.1" font-size="11.2">(t</text>
<text x="262.06" y="639.1" font-size="11.2">t</text>
<path d="M262.36,630.6h2.91" stroke="#000" stroke-width="1.2"/>
<text x="265.16" y="639.1" font-size="11.2">) [GeV]</text>
<text x="146.4" y="664.4" font-size="15" font-weight="bold">(c)</text>
<text x="58.4" y="362.6" font-size="10.8" font-weight="bold" font-style="italic">ATLAS</text>
<path d="M59.3,371.8l1,-0.6l1.2,5.4l1.1,-9.2h6.4" fill="none" stroke="#000" stroke-width="0.95"/>
<text x="63.4" y="376.4" font-size="10.5">s = 13 TeV, 3.2 fb<tspan font-size="7.4" dy="-4.3">-1</tspan></text>
<circle cx="216.9" cy="357.35" r="2.0" fill="#000"/>
<text x="226.5" y="359.45" font-size="9.4">Data 2015</text>
<rect x="210.5" y="364.77" width="13.1" height="6.4" fill="#fff" stroke="#000" stroke-width="1.6"/>
<text x="226.5" y="370.17" font-size="9.4">tt</text>
<path d="M229,363.37h2.3" stroke="#000" stroke-width="1.2"/>
<rect x="210" y="375.19" width="13.8" height="7.2" fill="#0073ff"/>
<text x="226.5" y="380.89" font-size="9.4">Single top</text>
<rect x="210" y="385.91" width="13.8" height="7.2" fill="#660066"/>
<text x="226.5" y="391.61" font-size="9.4">Fake lepton</text>
<rect x="210" y="396.63" width="13.8" height="7.2" fill="#ffff00"/>
<text x="226.5" y="402.33" font-size="9.4">Diboson</text>
<rect x="210" y="407.35" width="13.8" height="7.2" fill="#cc0000"/>
<text x="226.5" y="413.05" font-size="9.4">Drell-Yan (ττ)</text>
<rect x="210" y="418.07" width="13.8" height="7.2" fill="url(#statpat)"/>
<text x="226.5" y="423.77" font-size="9.4">Stat.</text>
<rect x="210" y="428.79" width="13.8" height="7.2" fill="#cccccc"/>
<text x="226.5" y="434.49" font-size="9.4">Stat.</text>
<circle cx="251.2" cy="431.79" r="3.05" fill="none" stroke="#000" stroke-width="0.6"/><path d="M248.15,431.79h6.1M251.2,428.74v6.1" stroke="#000" stroke-width="0.5"/>
<text x="257.4" y="434.49" font-size="9.4">syst.</text>
<clipPath id="cmd"><rect x="368.6" y="345.4" width="255.1" height="211.8"/></clipPath>
<clipPath id="crd"><rect x="368.6" y="562.5" width="255.1" height="53.8"/></clipPath>
<g clip-path="url(#cmd)" shape-rendering="crispEdges">
<rect x="368.6" y="454.2" width="51" height="105" fill="#0073ff"/>
<rect x="368.6" y="485" width="51" height="74.2" fill="#660066"/>
<rect x="368.6" y="513.9" width="51" height="45.3" fill="#ffff00"/>
<rect x="368.6" y="527.9" width="51" height="31.3" fill="#cc0000"/>
<rect x="419.6" y="466.5" width="50.9" height="92.7" fill="#0073ff"/>
<rect x="419.6" y="489.2" width="50.9" height="70" fill="#660066"/>
<rect x="419.6" y="540.6" width="50.9" height="18.6" fill="#ffff00"/>
<rect x="470.5" y="520.3" width="153.2" height="38.9" fill="#0073ff"/>
<rect x="470.5" y="533.8" width="153.2" height="25.4" fill="#660066"/>
</g>
<path d="M368.6,392.1 L419.6,392.1 L419.6,405.7 L470.5,405.7 L470.5,464.6 L623.7,464.6" fill="none" stroke="#000" stroke-width="2" clip-path="url(#cmd)"/>
<circle cx="394.1" cy="391.1" r="2.1" fill="#000"/>
<circle cx="445" cy="405.2" r="2.1" fill="#000"/>
<circle cx="547.2" cy="464.5" r="2.1" fill="#000"/>
<path d="M368.6,556h4.7M623.7,556h-4.7M368.6,550.25h4.7M623.7,550.25h-4.7M368.6,545.78h4.7M623.7,545.78h-4.7M368.6,542.13h4.7M623.7,542.13h-4.7M368.6,539.04h4.7M623.7,539.04h-4.7M368.6,536.37h4.7M623.7,536.37h-4.7M368.6,534.01h4.7M623.7,534.01h-4.7M368.6,531.9h9M623.7,531.9h-9M368.6,518.02h4.7M623.7,518.02h-4.7M368.6,509.9h4.7M623.7,509.9h-4.7M368.6,504.15h4.7M623.7,504.15h-4.7M368.6,499.68h4.7M623.7,499.68h-4.7M368.6,496.03h4.7M623.7,496.03h-4.7M368.6,492.94h4.7M623.7,492.94h-4.7M368.6,490.27h4.7M623.7,490.27h-4.7M368.6,487.91h4.7M623.7,487.91h-4.7M368.6,485.8h9M623.7,485.8h-9M368.6,471.92h4.7M623.7,471.92h-4.7M368.6,463.8h4.7M623.7,463.8h-4.7M368.6,458.05h4.7M623.7,458.05h-4.7M368.6,453.58h4.7M623.7,453.58h-4.7M368.6,449.93h4.7M623.7,449.93h-4.7M368.6,446.84h4.7M623.7,446.84h-4.7M368.6,444.17h4.7M623.7,444.17h-4.7M368.6,441.81h4.7M623.7,441.81h-4.7M368.6,439.7h9M623.7,439.7h-9M368.6,425.82h4.7M623.7,425.82h-4.7M368.6,417.7h4.7M623.7,417.7h-4.7M368.6,411.95h4.7M623.7,411.95h-4.7M368.6,407.48h4.7M623.7,407.48h-4.7M368.6,403.83h4.7M623.7,403.83h-4.7M368.6,400.74h4.7M623.7,400.74h-4.7M368.6,398.07h4.7M623.7,398.07h-4.7M368.6,395.71h4.7M623.7,395.71h-4.7M368.6,393.6h9M623.7,393.6h-9M368.6,379.72h4.7M623.7,379.72h-4.7M368.6,371.6h4.7M623.7,371.6h-4.7M368.6,365.85h4.7M623.7,365.85h-4.7M368.6,361.38h4.7M623.7,361.38h-4.7M368.6,357.73h4.7M623.7,357.73h-4.7M368.6,354.64h4.7M623.7,354.64h-4.7M368.6,351.97h4.7M623.7,351.97h-4.7M368.6,349.61h4.7M623.7,349.61h-4.7M368.6,347.5h9M623.7,347.5h-9M374.98,557.2v-2.8M374.98,345.4v2.8M381.36,557.2v-2.8M381.36,345.4v2.8M387.73,557.2v-2.8M387.73,345.4v2.8M394.11,557.2v-2.8M394.11,345.4v2.8M400.49,557.2v-5.5M400.49,345.4v5.5M406.87,557.2v-2.8M406.87,345.4v2.8M413.24,557.2v-2.8M413.24,345.4v2.8M419.62,557.2v-2.8M419.62,345.4v2.8M426,557.2v-2.8M426,345.4v2.8M432.38,557.2v-5.5M432.38,345.4v5.5M438.75,557.2v-2.8M438.75,345.4v2.8M445.13,557.2v-2.8M445.13,345.4v2.8M451.51,557.2v-2.8M451.51,345.4v2.8M457.88,557.2v-2.8M457.88,345.4v2.8M464.26,557.2v-5.5M464.26,345.4v5.5M470.64,557.2v-2.8M470.64,345.4v2.8M477.02,557.2v-2.8M477.02,345.4v2.8M483.4,557.2v-2.8M483.4,345.4v2.8M489.77,557.2v-2.8M489.77,345.4v2.8M496.15,557.2v-5.5M496.15,345.4v5.5M502.53,557.2v-2.8M502.53,345.4v2.8M508.91,557.2v-2.8M508.91,345.4v2.8M515.28,557.2v-2.8M515.28,345.4v2.8M521.66,557.2v-2.8M521.66,345.4v2.8M528.04,557.2v-5.5M528.04,345.4v5.5M534.42,557.2v-2.8M534.42,345.4v2.8M540.79,557.2v-2.8M540.79,345.4v2.8M547.17,557.2v-2.8M547.17,345.4v2.8M553.55,557.2v-2.8M553.55,345.4v2.8M559.93,557.2v-5.5M559.93,345.4v5.5M566.3,557.2v-2.8M566.3,345.4v2.8M572.68,557.2v-2.8M572.68,345.4v2.8M579.06,557.2v-2.8M579.06,345.4v2.8M585.44,557.2v-2.8M585.44,345.4v2.8M591.81,557.2v-5.5M591.81,345.4v5.5M598.19,557.2v-2.8M598.19,345.4v2.8M604.57,557.2v-2.8M604.57,345.4v2.8M610.95,557.2v-2.8M610.95,345.4v2.8M617.32,557.2v-2.8M617.32,345.4v2.8" stroke="#000" stroke-width="1" fill="none"/>
<rect x="368.6" y="345.4" width="255.1" height="211.8" fill="none" stroke="#000" stroke-width="1.3"/>
<g clip-path="url(#crd)">
<rect x="368.6" y="581" width="51" height="16" fill="#cccccc"/>
<rect x="419.6" y="580.6" width="50.9" height="17.8" fill="#cccccc"/>
<rect x="470.5" y="576.2" width="153.2" height="24.4" fill="#cccccc"/>
<rect x="368.6" y="587.7" width="51" height="4.3" fill="url(#statpat)"/>
<rect x="419.6" y="586.4" width="50.9" height="5.6" fill="url(#statpat)"/>
<rect x="470.5" y="581.7" width="153.2" height="15.3" fill="url(#statpat)"/>
<line x1="368.6" y1="589.4" x2="623.7" y2="589.4" stroke="#000" stroke-width="1.5" stroke-dasharray="1.9,1.5"/>
<path d="M368.6,594.6 L419.6,594.6 L419.6,592 L470.5,592 L470.5,588.6 L623.7,588.6" fill="none" stroke="#000" stroke-width="1.5"/>
</g>
<path d="M368.6,575.1h6M623.7,575.1h-6M368.6,589.4h6M623.7,589.4h-6M368.6,603.7h6M623.7,603.7h-6M374.98,616.3v-1.4M374.98,562.5v1.4M381.36,616.3v-1.4M381.36,562.5v1.4M387.73,616.3v-1.4M387.73,562.5v1.4M394.11,616.3v-1.4M394.11,562.5v1.4M400.49,616.3v-2.6M400.49,562.5v2.6M406.87,616.3v-1.4M406.87,562.5v1.4M413.24,616.3v-1.4M413.24,562.5v1.4M419.62,616.3v-1.4M419.62,562.5v1.4M426,616.3v-1.4M426,562.5v1.4M432.38,616.3v-2.6M432.38,562.5v2.6M438.75,616.3v-1.4M438.75,562.5v1.4M445.13,616.3v-1.4M445.13,562.5v1.4M451.51,616.3v-1.4M451.51,562.5v1.4M457.88,616.3v-1.4M457.88,562.5v1.4M464.26,616.3v-2.6M464.26,562.5v2.6M470.64,616.3v-1.4M470.64,562.5v1.4M477.02,616.3v-1.4M477.02,562.5v1.4M483.4,616.3v-1.4M483.4,562.5v1.4M489.77,616.3v-1.4M489.77,562.5v1.4M496.15,616.3v-2.6M496.15,562.5v2.6M502.53,616.3v-1.4M502.53,562.5v1.4M508.91,616.3v-1.4M508.91,562.5v1.4M515.28,616.3v-1.4M515.28,562.5v1.4M521.66,616.3v-1.4M521.66,562.5v1.4M528.04,616.3v-2.6M528.04,562.5v2.6M534.42,616.3v-1.4M534.42,562.5v1.4M540.79,616.3v-1.4M540.79,562.5v1.4M547.17,616.3v-1.4M547.17,562.5v1.4M553.55,616.3v-1.4M553.55,562.5v1.4M559.93,616.3v-2.6M559.93,562.5v2.6M566.3,616.3v-1.4M566.3,562.5v1.4M572.68,616.3v-1.4M572.68,562.5v1.4M579.06,616.3v-1.4M579.06,562.5v1.4M585.44,616.3v-1.4M585.44,562.5v1.4M591.81,616.3v-2.6M591.81,562.5v2.6M598.19,616.3v-1.4M598.19,562.5v1.4M604.57,616.3v-1.4M604.57,562.5v1.4M610.95,616.3v-1.4M610.95,562.5v1.4M617.32,616.3v-1.4M617.32,562.5v1.4" stroke="#000" stroke-width="1" fill="none"/>
<rect x="368.6" y="562.5" width="255.1" height="53.8" fill="none" stroke="#000" stroke-width="1.3"/>
<text x="364.9" y="352" text-anchor="end" font-size="10.3">10<tspan font-size="8.1" dx="-0.9" dy="-4.3">5</tspan></text>
<text x="364.9" y="398.1" text-anchor="end" font-size="10.3">10<tspan font-size="8.1" dx="-0.9" dy="-4.3">4</tspan></text>
<text x="364.9" y="444.2" text-anchor="end" font-size="10.3">10<tspan font-size="8.1" dx="-0.9" dy="-4.3">3</tspan></text>
<text x="364.9" y="490.3" text-anchor="end" font-size="10.3">10<tspan font-size="8.1" dx="-0.9" dy="-4.3">2</tspan></text>
<text x="364.9" y="536.4" text-anchor="end" font-size="10.3">10</text>
<text x="365.8" y="579.9" text-anchor="end" font-size="11.8">1.1</text>
<text x="365.8" y="594.2" text-anchor="end" font-size="11.8">1</text>
<text x="365.8" y="608.5" text-anchor="end" font-size="11.8">0.9</text>
<text x="368.6" y="626.3" text-anchor="middle" font-size="10">0</text>
<text x="400.49" y="626.3" text-anchor="middle" font-size="10">0.5</text>
<text x="432.38" y="626.3" text-anchor="middle" font-size="10">1</text>
<text x="464.26" y="626.3" text-anchor="middle" font-size="10">1.5</text>
<text x="496.15" y="626.3" text-anchor="middle" font-size="10">2</text>
<text x="528.04" y="626.3" text-anchor="middle" font-size="10">2.5</text>
<text x="559.93" y="626.3" text-anchor="middle" font-size="10">3</text>
<text x="591.81" y="626.3" text-anchor="middle" font-size="10">3.5</text>
<text x="623.7" y="626.3" text-anchor="middle" font-size="10">4</text>
<text transform="translate(332.3,344.8) rotate(-90)" text-anchor="end" font-size="11.8">Events / Unit rapidity</text>
<text transform="translate(337.6,560.4) rotate(-90)" text-anchor="end" font-size="10.9">Pred. / Data</text>
<text x="598.63" y="641" font-size="11.2">|y(t</text>
<text x="613.96" y="641" font-size="11.2">t</text>
<path d="M614.26,632.5h2.91" stroke="#000" stroke-width="1.2"/>
<text x="617.07" y="641" font-size="11.2">)|</text>
<text x="469.4" y="664.4" font-size="15" font-weight="bold">(d)</text>
<text x="381.9" y="362.5" font-size="10.8" font-weight="bold" font-style="italic">ATLAS</text>
<path d="M382.8,371.7l1,-0.6l1.2,5.4l1.1,-9.2h6.4" fill="none" stroke="#000" stroke-width="0.95"/>
<text x="386.9" y="376.3" font-size="10.5">s = 13 TeV, 3.2 fb<tspan font-size="7.4" dy="-4.3">-1</tspan></text>
<circle cx="540" cy="357.25" r="2.0" fill="#000"/>
<text x="549.6" y="359.35" font-size="9.4">Data 2015</text>
<rect x="533.6" y="364.67" width="13.1" height="6.4" fill="#fff" stroke="#000" stroke-width="1.6"/>
<text x="549.6" y="370.07" font-size="9.4">tt</text>
<path d="M552.1,363.27h2.3" stroke="#000" stroke-width="1.2"/>
<rect x="533.1" y="375.09" width="13.8" height="7.2" fill="#0073ff"/>
<text x="549.6" y="380.79" font-size="9.4">Single top</text>
<rect x="533.1" y="385.81" width="13.8" height="7.2" fill="#660066"/>
<text x="549.6" y="391.51" font-size="9.4">Fake lepton</text>
<rect x="533.1" y="396.53" width="13.8" height="7.2" fill="#ffff00"/>
<text x="549.6" y="402.23" font-size="9.4">Diboson</text>
<rect x="533.1" y="407.25" width="13.8" height="7.2" fill="#cc0000"/>
<text x="549.6" y="412.95" font-size="9.4">Drell-Yan (ττ)</text>
<rect x="533.1" y="417.97" width="13.8" height="7.2" fill="url(#statpat)"/>
<text x="549.6" y="423.67" font-size="9.4">Stat.</text>
<rect x="533.1" y="428.69" width="13.8" height="7.2" fill="#cccccc"/>
<text x="549.6" y="434.39" font-size="9.4">Stat.</text>
<circle cx="574.3" cy="431.69" r="3.05" fill="none" stroke="#000" stroke-width="0.6"/><path d="M571.25,431.69h6.1M574.3,428.64v6.1" stroke="#000" stroke-width="0.5"/>
<text x="580.5" y="434.39" font-size="9.4">syst.</text>
<clipPath id="cme"><rect x="207.3" y="692.9" width="255.1" height="212.5"/></clipPath>
<clipPath id="cre"><rect x="207.3" y="910.5" width="255.1" height="54.1"/></clipPath>
<g clip-path="url(#cme)" shape-rendering="crispEdges">
<rect x="207.3" y="830.5" width="75.9" height="76.9" fill="#0073ff"/>
<rect x="207.3" y="860.8" width="75.9" height="46.6" fill="#660066"/>
<rect x="207.3" y="893.9" width="75.9" height="13.5" fill="#ffff00"/>
<rect x="283.2" y="812.5" width="34.4" height="94.9" fill="#0073ff"/>
<rect x="283.2" y="843.5" width="34.4" height="63.9" fill="#660066"/>
<rect x="283.2" y="892" width="34.4" height="15.4" fill="#ffff00"/>
<rect x="317.6" y="839" width="33.8" height="68.4" fill="#0073ff"/>
<rect x="317.6" y="862.5" width="33.8" height="44.9" fill="#660066"/>
<rect x="317.6" y="894.4" width="33.8" height="13" fill="#ffff00"/>
<rect x="317.6" y="899.3" width="33.8" height="8.1" fill="#cc0000"/>
<rect x="351.4" y="874.7" width="111" height="32.7" fill="#0073ff"/>
<rect x="351.4" y="896.3" width="111" height="11.1" fill="#660066"/>
</g>
<path d="M207.3,764.8 L283.2,764.8 L283.2,744.5 L317.6,744.5 L317.6,768.5 L351.4,768.5 L351.4,804 L462.4,804" fill="none" stroke="#000" stroke-width="2" clip-path="url(#cme)"/>
<circle cx="245.2" cy="762.8" r="2.1" fill="#000"/>
<circle cx="300.5" cy="744.2" r="2.1" fill="#000"/>
<circle cx="334.5" cy="768.5" r="2.1" fill="#000"/>
<circle cx="406.9" cy="803.2" r="2.1" fill="#000"/>
<path d="M207.3,897.12h4.7M462.4,897.12h-4.7M207.3,890.71h4.7M462.4,890.71h-4.7M207.3,885.74h4.7M462.4,885.74h-4.7M207.3,881.68h4.7M462.4,881.68h-4.7M207.3,878.25h4.7M462.4,878.25h-4.7M207.3,875.27h4.7M462.4,875.27h-4.7M207.3,872.65h4.7M462.4,872.65h-4.7M207.3,870.3h9M462.4,870.3h-9M207.3,854.86h4.7M462.4,854.86h-4.7M207.3,845.82h4.7M462.4,845.82h-4.7M207.3,839.41h4.7M462.4,839.41h-4.7M207.3,834.44h4.7M462.4,834.44h-4.7M207.3,830.38h4.7M462.4,830.38h-4.7M207.3,826.95h4.7M462.4,826.95h-4.7M207.3,823.97h4.7M462.4,823.97h-4.7M207.3,821.35h4.7M462.4,821.35h-4.7M207.3,819h9M462.4,819h-9M207.3,803.56h4.7M462.4,803.56h-4.7M207.3,794.52h4.7M462.4,794.52h-4.7M207.3,788.11h4.7M462.4,788.11h-4.7M207.3,783.14h4.7M462.4,783.14h-4.7M207.3,779.08h4.7M462.4,779.08h-4.7M207.3,775.65h4.7M462.4,775.65h-4.7M207.3,772.67h4.7M462.4,772.67h-4.7M207.3,770.05h4.7M462.4,770.05h-4.7M207.3,767.7h9M462.4,767.7h-9M207.3,752.26h4.7M462.4,752.26h-4.7M207.3,743.22h4.7M462.4,743.22h-4.7M207.3,736.81h4.7M462.4,736.81h-4.7M207.3,731.84h4.7M462.4,731.84h-4.7M207.3,727.78h4.7M462.4,727.78h-4.7M207.3,724.35h4.7M462.4,724.35h-4.7M207.3,721.37h4.7M462.4,721.37h-4.7M207.3,718.75h4.7M462.4,718.75h-4.7M207.3,716.4h9M462.4,716.4h-9M207.3,700.96h4.7M462.4,700.96h-4.7M215.8,905.4v-2.8M215.8,692.9v2.8M224.31,905.4v-2.8M224.31,692.9v2.8M232.81,905.4v-2.8M232.81,692.9v2.8M241.31,905.4v-5.5M241.31,692.9v5.5M249.82,905.4v-2.8M249.82,692.9v2.8M258.32,905.4v-2.8M258.32,692.9v2.8M266.82,905.4v-2.8M266.82,692.9v2.8M275.33,905.4v-5.5M275.33,692.9v5.5M283.83,905.4v-2.8M283.83,692.9v2.8M292.33,905.4v-2.8M292.33,692.9v2.8M300.84,905.4v-2.8M300.84,692.9v2.8M309.34,905.4v-5.5M309.34,692.9v5.5M317.84,905.4v-2.8M317.84,692.9v2.8M326.35,905.4v-2.8M326.35,692.9v2.8M334.85,905.4v-2.8M334.85,692.9v2.8M343.35,905.4v-5.5M343.35,692.9v5.5M351.86,905.4v-2.8M351.86,692.9v2.8M360.36,905.4v-2.8M360.36,692.9v2.8M368.86,905.4v-2.8M368.86,692.9v2.8M377.37,905.4v-5.5M377.37,692.9v5.5M385.87,905.4v-2.8M385.87,692.9v2.8M394.37,905.4v-2.8M394.37,692.9v2.8M402.88,905.4v-2.8M402.88,692.9v2.8M411.38,905.4v-5.5M411.38,692.9v5.5M419.88,905.4v-2.8M419.88,692.9v2.8M428.39,905.4v-2.8M428.39,692.9v2.8M436.89,905.4v-2.8M436.89,692.9v2.8M445.39,905.4v-5.5M445.39,692.9v5.5M453.9,905.4v-2.8M453.9,692.9v2.8" stroke="#000" stroke-width="1" fill="none"/>
<rect x="207.3" y="692.9" width="255.1" height="212.5" fill="none" stroke="#000" stroke-width="1.3"/>
<g clip-path="url(#cre)">
<rect x="207.3" y="931.4" width="75.9" height="13" fill="#cccccc"/>
<rect x="283.2" y="932.4" width="34.4" height="11.2" fill="#cccccc"/>
<rect x="317.6" y="929.7" width="33.8" height="13.9" fill="#cccccc"/>
<rect x="351.4" y="931" width="111" height="12.4" fill="#cccccc"/>
<rect x="207.3" y="936" width="75.9" height="6.2" fill="url(#statpat)"/>
<rect x="283.2" y="936.6" width="34.4" height="2.4" fill="url(#statpat)"/>
<rect x="317.6" y="933.9" width="33.8" height="7.2" fill="url(#statpat)"/>
<rect x="351.4" y="933.7" width="111" height="7.6" fill="url(#statpat)"/>
<line x1="207.3" y1="937.6" x2="462.4" y2="937.6" stroke="#000" stroke-width="1.5" stroke-dasharray="1.9,1.5"/>
<path d="M207.3,944.4 L283.2,944.4 L283.2,937.8 L317.6,937.8 L317.6,936.8 L351.4,936.8 L351.4,940.5 L462.4,940.5" fill="none" stroke="#000" stroke-width="1.5"/>
</g>
<path d="M207.3,918.9h6M462.4,918.9h-6M207.3,937.6h6M462.4,937.6h-6M207.3,956.3h6M462.4,956.3h-6M215.8,964.6v-1.4M215.8,910.5v1.4M224.31,964.6v-1.4M224.31,910.5v1.4M232.81,964.6v-1.4M232.81,910.5v1.4M241.31,964.6v-2.6M241.31,910.5v2.6M249.82,964.6v-1.4M249.82,910.5v1.4M258.32,964.6v-1.4M258.32,910.5v1.4M266.82,964.6v-1.4M266.82,910.5v1.4M275.33,964.6v-2.6M275.33,910.5v2.6M283.83,964.6v-1.4M283.83,910.5v1.4M292.33,964.6v-1.4M292.33,910.5v1.4M300.84,964.6v-1.4M300.84,910.5v1.4M309.34,964.6v-2.6M309.34,910.5v2.6M317.84,964.6v-1.4M317.84,910.5v1.4M326.35,964.6v-1.4M326.35,910.5v1.4M334.85,964.6v-1.4M334.85,910.5v1.4M343.35,964.6v-2.6M343.35,910.5v2.6M351.86,964.6v-1.4M351.86,910.5v1.4M360.36,964.6v-1.4M360.36,910.5v1.4M368.86,964.6v-1.4M368.86,910.5v1.4M377.37,964.6v-2.6M377.37,910.5v2.6M385.87,964.6v-1.4M385.87,910.5v1.4M394.37,964.6v-1.4M394.37,910.5v1.4M402.88,964.6v-1.4M402.88,910.5v1.4M411.38,964.6v-2.6M411.38,910.5v2.6M419.88,964.6v-1.4M419.88,910.5v1.4M428.39,964.6v-1.4M428.39,910.5v1.4M436.89,964.6v-1.4M436.89,910.5v1.4M445.39,964.6v-2.6M445.39,910.5v2.6M453.9,964.6v-1.4M453.9,910.5v1.4" stroke="#000" stroke-width="1" fill="none"/>
<rect x="207.3" y="910.5" width="255.1" height="54.1" fill="none" stroke="#000" stroke-width="1.3"/>
<text x="203.6" y="720.9" text-anchor="end" font-size="10.3">10<tspan font-size="8.1" dx="-0.9" dy="-4.3">2</tspan></text>
<text x="203.6" y="772.2" text-anchor="end" font-size="10.3">10</text>
<text x="203.6" y="823.5" text-anchor="end" font-size="10.3">1</text>
<text x="203.6" y="874.8" text-anchor="end" font-size="10.3">10<tspan font-size="8.1" dx="-0.9" dy="-4.3">-1</tspan></text>
<text x="204.5" y="923.7" text-anchor="end" font-size="11.8">1.2</text>
<text x="204.5" y="942.4" text-anchor="end" font-size="11.8">1</text>
<text x="204.5" y="961.1" text-anchor="end" font-size="11.8">0.8</text>
<text x="207.3" y="975.1" text-anchor="middle" font-size="10">0</text>
<text x="241.31" y="975.1" text-anchor="middle" font-size="10">200</text>
<text x="275.33" y="975.1" text-anchor="middle" font-size="10">400</text>
<text x="309.34" y="975.1" text-anchor="middle" font-size="10">600</text>
<text x="343.35" y="975.1" text-anchor="middle" font-size="10">800</text>
<text x="377.37" y="975.1" text-anchor="middle" font-size="10">1000</text>
<text x="411.38" y="975.1" text-anchor="middle" font-size="10">1200</text>
<text x="445.39" y="975.1" text-anchor="middle" font-size="10">1400</text>
<text transform="translate(171.7,692.3) rotate(-90)" text-anchor="end" font-size="11.8">Events / GeV</text>
<text transform="translate(176.3,908.4) rotate(-90)" text-anchor="end" font-size="10.9">Pred. / Data</text>
<text x="407.7" y="989.5" font-size="11.2">m(t</text>
<text x="423.86" y="989.5" font-size="11.2">t</text>
<path d="M424.16,981h2.91" stroke="#000" stroke-width="1.2"/>
<text x="426.96" y="989.5" font-size="11.2">) [GeV]</text>
<text x="308" y="1012.2" font-size="15" font-weight="bold">(e)</text>
<text x="220.6" y="711" font-size="10.8" font-weight="bold" font-style="italic">ATLAS</text>
<path d="M221.5,719.9l1,-0.6l1.2,5.4l1.1,-9.2h6.4" fill="none" stroke="#000" stroke-width="0.95"/>
<text x="225.6" y="724.5" font-size="10.5">s = 13 TeV, 3.2 fb<tspan font-size="7.4" dy="-4.3">-1</tspan></text>
<circle cx="378.3" cy="705.35" r="2.0" fill="#000"/>
<text x="387.9" y="707.45" font-size="9.4">Data 2015</text>
<rect x="371.9" y="712.77" width="13.1" height="6.4" fill="#fff" stroke="#000" stroke-width="1.6"/>
<text x="387.9" y="718.17" font-size="9.4">tt</text>
<path d="M390.4,711.37h2.3" stroke="#000" stroke-width="1.2"/>
<rect x="371.4" y="723.19" width="13.8" height="7.2" fill="#0073ff"/>
<text x="387.9" y="728.89" font-size="9.4">Single top</text>
<rect x="371.4" y="733.91" width="13.8" height="7.2" fill="#660066"/>
<text x="387.9" y="739.61" font-size="9.4">Fake lepton</text>
<rect x="371.4" y="744.63" width="13.8" height="7.2" fill="#ffff00"/>
<text x="387.9" y="750.33" font-size="9.4">Diboson</text>
<rect x="371.4" y="755.35" width="13.8" height="7.2" fill="#cc0000"/>
<text x="387.9" y="761.05" font-size="9.4">Drell-Yan (ττ)</text>
<rect x="371.4" y="766.07" width="13.8" height="7.2" fill="url(#statpat)"/>
<text x="387.9" y="771.77" font-size="9.4">Stat.</text>
<rect x="371.4" y="776.79" width="13.8" height="7.2" fill="#cccccc"/>
<text x="387.9" y="782.49" font-size="9.4">Stat.</text>
<circle cx="412.6" cy="779.79" r="3.05" fill="none" stroke="#000" stroke-width="0.6"/><path d="M409.55,779.79h6.1M412.6,776.74v6.1" stroke="#000" stroke-width="0.5"/>
<text x="418.8" y="782.49" font-size="9.4">syst.</text>
</svg></body></html>
